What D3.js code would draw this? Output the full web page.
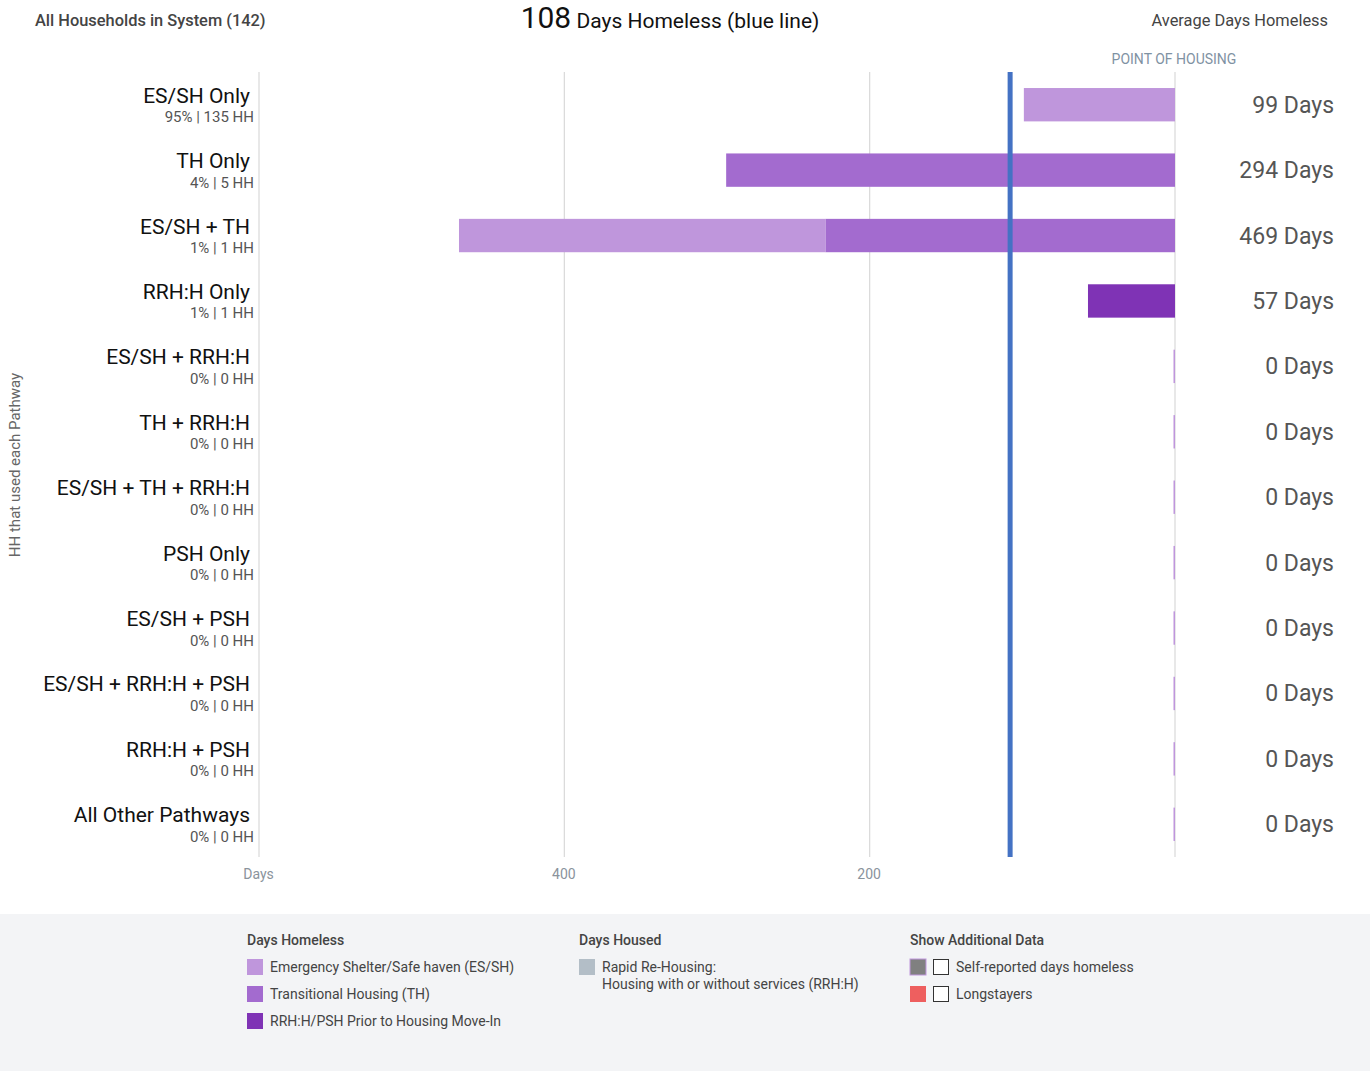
<!DOCTYPE html>
<html><head><meta charset="utf-8">
<script src="https://cdn.jsdelivr.net/npm/d3@7"></script>
<style>body{margin:0;background:#fff;font-family:Roboto,"Noto Sans",sans-serif;}</style>
</head><body>
<svg id="chart" width="1370" height="1071"></svg>
<script>
const categories = ["ES/SH Only","TH Only","ES/SH + TH","RRH:H Only","ES/SH + RRH:H","TH + RRH:H","ES/SH + TH + RRH:H","PSH Only","ES/SH + PSH","ES/SH + RRH:H + PSH","RRH:H + PSH","All Other Pathways"];
const subLabels = ["95% | 135 HH","4% | 5 HH","1% | 1 HH","1% | 1 HH","0% | 0 HH","0% | 0 HH","0% | 0 HH","0% | 0 HH","0% | 0 HH","0% | 0 HH","0% | 0 HH","0% | 0 HH"];
// days by segment, stacked outward from point of housing: prior-move-in, TH, ES/SH
const priorDays = [0,0,0,57,0,0,0,0,0,0,0,0];
const thDays    = [0,294,229,0,0,0,0,0,0,0,0,0];
const esDays    = [99,0,240,0,0,0,0,0,0,0,0,0];
const totalDays = [99,294,469,57,0,0,0,0,0,0,0,0];
const avgDays = 108;
const tickValues = [600,400,200];
const tickLabels = ["Days","400","200"];

(function(){
const svg = d3.select("#chart");
const W = 1370, H = 1071;
const mLeft = 259, mRight = 1175, mTop = 72, mBottom = 857;
const x = d3.scaleLinear().domain([600,0]).range([mLeft,mRight]);
const y = d3.scaleBand().domain(categories).range([mTop,mBottom]).paddingInner(0.49).paddingOuter(0.245);

const colors = {es:"#bf96dc", th:"#a36bcf", prior:"#7f33b5", housed:"#b3bec7"};

// header
svg.append("text").attr("x",35).attr("y",26).attr("font-size",16.4).attr("font-weight",500).attr("fill","#444").text("All Households in System (142)");
const t = svg.append("text").attr("x",670).attr("y",28).attr("text-anchor","middle").attr("fill","#111");
t.append("tspan").attr("font-size",30).text(avgDays);
t.append("tspan").attr("font-size",21).text(" Days Homeless (blue line)");
svg.append("text").attr("x",1328).attr("y",26).attr("text-anchor","end").attr("font-size",16.4).attr("fill","#444").text("Average Days Homeless");
svg.append("text").attr("x",1174).attr("y",64).attr("text-anchor","middle").attr("font-size",14).attr("fill","#7f92a3").text("POINT OF HOUSING");

// gridlines
svg.append("g").selectAll("line").data(tickValues.concat([0])).join("line")
  .attr("x1",d=>x(d)).attr("x2",d=>x(d)).attr("y1",mTop).attr("y2",mBottom)
  .attr("stroke","#d9d9d9").attr("stroke-width",1.2);

// axis
const axis = d3.axisBottom(x).tickValues(tickValues).tickFormat((d,i)=>tickLabels[i]).tickSize(0).tickPadding(9);
const ag = svg.append("g").attr("transform",`translate(0,${mBottom})`).call(axis);
ag.select(".domain").remove();
ag.selectAll("text").attr("font-size",14).attr("fill","#8a939c").attr("font-family","Roboto,sans-serif").attr("dy","0.9em");
ag.selectAll(".tick text").attr("transform",(d,i)=>i===0?"translate(-1,0)":"translate(-1,0)");

// bars
const rows = categories.map((c,i)=>({c,i}));
const bg = svg.append("g");
rows.forEach(r=>{
  const yy = y(r.c), h = y.bandwidth();
  let acc = 0;
  const segs = [["prior",priorDays[r.i]],["th",thDays[r.i]],["es",esDays[r.i]]];
  segs.forEach(([k,v])=>{
    if(v>0){
      bg.append("rect").attr("x",x(acc+v)).attr("y",yy).attr("width",x(acc)-x(acc+v)).attr("height",h).attr("fill",colors[k]);
      acc+=v;
    }
  });
  if(totalDays[r.i]===0){
    bg.append("rect").attr("x",x(0)-1.5).attr("y",yy).attr("width",1.5).attr("height",h).attr("fill",colors.es);
  }
});

// blue line
svg.append("line").attr("x1",x(avgDays)).attr("x2",x(avgDays)).attr("y1",mTop).attr("y2",mBottom).attr("stroke","#4472c4").attr("stroke-width",5);

// labels
const lg = svg.append("g");
rows.forEach(r=>{
  const cy = y(r.c)+y.bandwidth()/2;
  lg.append("text").attr("x",250).attr("y",cy-2).attr("text-anchor","end").attr("font-size",21).attr("fill","#111").text(r.c);
  lg.append("text").attr("x",254).attr("y",cy+17.5).attr("text-anchor","end").attr("font-size",15).attr("fill","#555").text(subLabels[r.i]);
  lg.append("text").attr("x",1334).attr("y",cy+8).attr("text-anchor","end").attr("font-size",23).attr("fill","#555").text(totalDays[r.i]+" Days");
});

// y title
svg.append("text").attr("transform","translate(20,465) rotate(-90)").attr("text-anchor","middle").attr("font-size",15).attr("fill","#666").text("HH that used each Pathway");

// footer legend
svg.append("rect").attr("x",0).attr("y",914).attr("width",W).attr("height",H-914).attr("fill","#f3f4f6");
const legendCols = [
  {x:247,title:"Days Homeless",items:[{c:colors.es,t:["Emergency Shelter/Safe haven (ES/SH)"]},{c:colors.th,t:["Transitional Housing (TH)"]},{c:colors.prior,t:["RRH:H/PSH Prior to Housing Move-In"]}]},
  {x:579,title:"Days Housed",items:[{c:colors.housed,t:["Rapid Re-Housing:","Housing with or without services (RRH:H)"]}]},
  {x:910,title:"Show Additional Data",items:[{c:"#808080",stroke:"#bf96dc",box:true,t:["Self-reported days homeless"]},{c:"#ee5f5f",box:true,t:["Longstayers"]}]}
];
legendCols.forEach(col=>{
  const g = svg.append("g");
  g.append("text").attr("x",col.x).attr("y",945).attr("font-size",14).attr("font-weight",500).attr("fill","#444").text(col.title);
  col.items.forEach((it,j)=>{
    const yy = 959+j*27;
    g.append("rect").attr("x",col.x).attr("y",yy).attr("width",16).attr("height",16).attr("fill",it.c)
      .attr("stroke",it.stroke||"none").attr("stroke-width",1);
    let tx = col.x+23;
    if(it.box){
      g.append("rect").attr("x",col.x+23.5).attr("y",yy+0.5).attr("width",15).attr("height",15).attr("fill","#fff").attr("stroke","#333").attr("stroke-width",1);
      tx = col.x+46;
    }
    it.t.forEach((s,k)=>{
      g.append("text").attr("x",tx).attr("y",yy+13+k*17).attr("font-size",14).attr("fill","#444").text(s);
    });
  });
});
})();
</script>
</body></html>
